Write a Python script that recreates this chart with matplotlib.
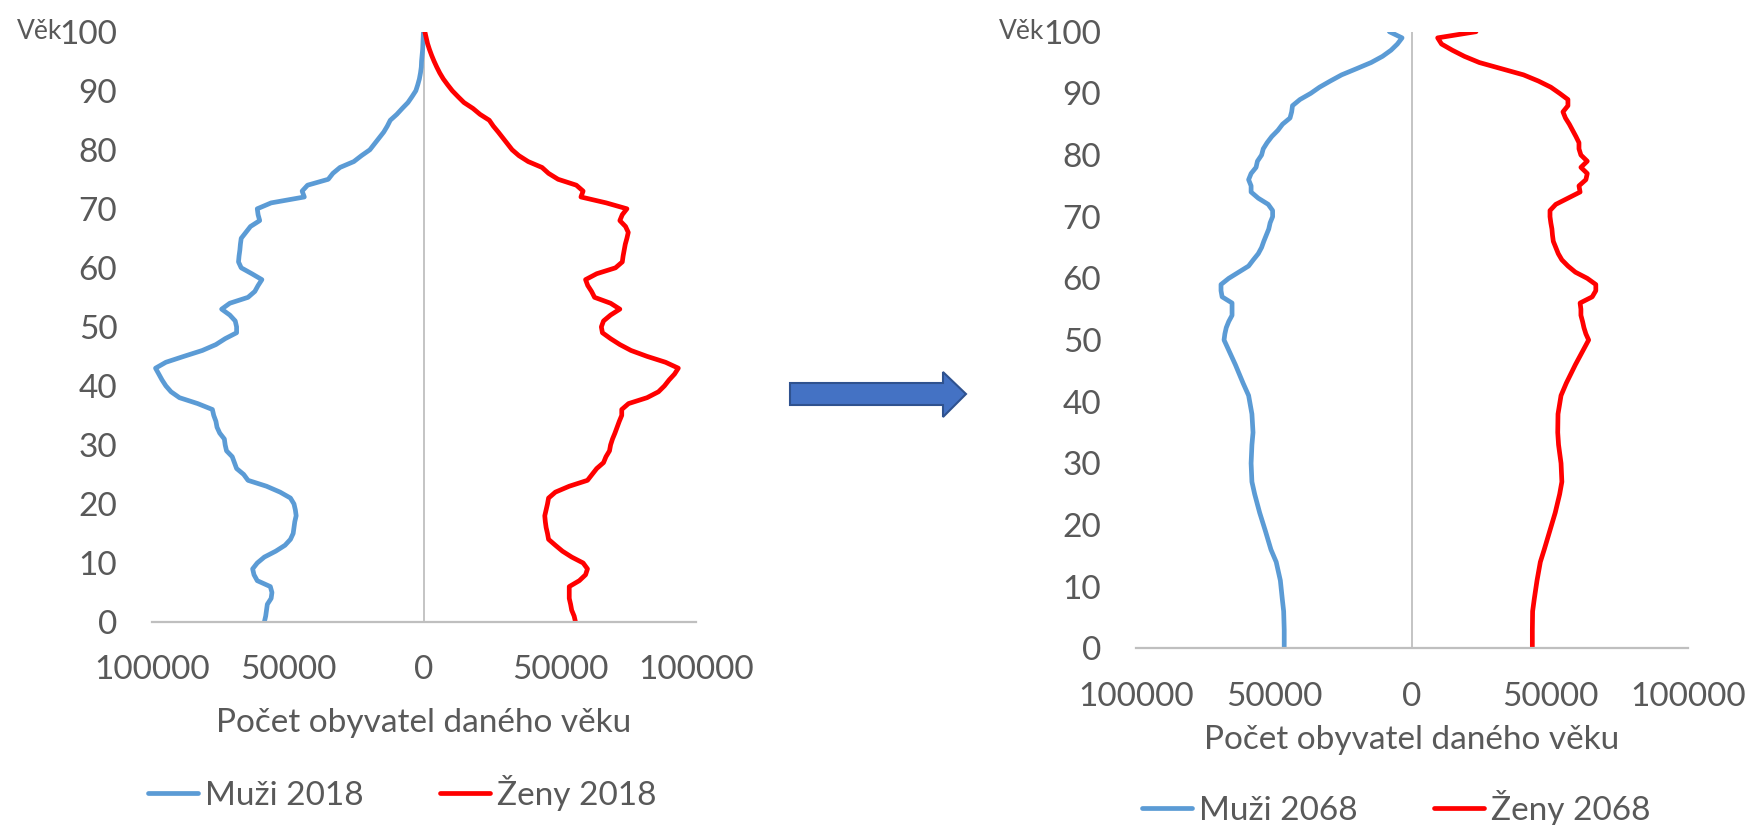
"""Věková pyramida ČR 2018 a projekce 2068."""

import matplotlib

matplotlib.use("Agg")
import matplotlib.pyplot as plt
from matplotlib.patches import Polygon
import numpy as np

plt.rcParams["font.family"] = ["Lato", "DejaVu Sans"]

# --- data: počet obyvatel podle věku ---------------------------------------
ages_2018 = list(range(0, 101))
muzi_2018 = [
    58700, 58200, 57900, 57600, 56200, 55900, 56500, 61300, 62500, 63000,
    61300, 58700, 54500, 51100, 49100, 48100, 47800, 47500, 47000, 47300,
    47800, 49100, 52900, 57900, 64700, 66300, 68900, 69700, 70500, 72600,
    73100, 73400, 75100, 76100, 76500, 77300, 77800, 83200, 89900, 93000,
    94900, 96300, 97500, 98700, 94900, 88300, 81500, 76500, 73100, 68900,
    68900, 69400, 71400, 74400, 71400, 64700, 62200, 61000, 59600, 63300,
    67200, 68200, 68000, 67700, 67500, 67200, 65500, 63800, 60400, 61000,
    61300, 56200, 44000, 44800, 42800, 35200, 33500, 30900, 25800, 23000,
    19900, 18200, 16500, 14800, 13500, 12400, 10000, 8000, 5900, 4400,
    3000, 2300, 1700, 1300, 1000, 900, 700, 500, 400, 300, 200,
]
zeny_2018 = [
    55700, 55200, 54300, 53900, 53400, 53400, 53400, 57100, 59400, 60100,
    58500, 54300, 50900, 48300, 45800, 45400, 44900, 44600, 44400, 44900,
    45400, 45800, 48300, 53400, 60100, 61800, 63500, 66000, 66900, 68200,
    68600, 69300, 70200, 71000, 71800, 72700, 72700, 75200, 82000, 86200,
    88400, 90100, 92100, 93500, 88800, 82000, 76100, 72000, 68600, 65600,
    65200, 66000, 68600, 72000, 68600, 62700, 61600, 60200, 59400, 63500,
    70400, 72900, 73200, 73600, 74000, 74600, 75100, 74100, 72000, 72900,
    74600, 67000, 57700, 58500, 56000, 49300, 45800, 43400, 38300, 34900,
    32400, 30700, 29000, 27300, 25500, 24000, 20600, 18000, 14700, 12500,
    10400, 8700, 7100, 5800, 4700, 3700, 2800, 2000, 1300, 800, 300,
]

ages_2068 = [0, 3, 6, 8, 11, 14, 16, 19, 22, 25, 27, 30, 33, 35, 38, 41, 43, 46] + list(range(50, 101))
muzi_2068 = [
    46300, 46300, 46500, 47000, 47700, 49200, 51100, 53100, 55200, 57000,
    58000, 58300, 58000, 57600, 58000, 59200, 61200, 64000,
    68100, 67800, 67300, 66400, 65200, 65200, 65200, 68800, 69200, 69200,
    66400, 62800, 59200, 57500, 55700, 54500, 53700, 52800, 51900, 51400,
    50500, 50500, 52100, 55700, 58300, 58300, 59200, 58300, 56500, 56000,
    54500, 53900, 52500, 50800, 48600, 46900, 44200, 43600, 43300, 40600,
    36700, 33500, 29600, 25500, 20100, 14800, 10700, 7600, 5300, 3600, 8200,
]
zeny_2068 = [
    43600, 43600, 43700, 44300, 45300, 46500, 47900, 49900, 51900, 53500,
    54300, 54000, 53100, 52800, 52900, 54000, 55900, 59200,
    64000, 63000, 62300, 61800, 61200, 61200, 60900, 65300, 66600, 66600,
    63500, 59200, 56500, 54300, 53000, 52100, 51200, 50900, 50700, 50300,
    50000, 50000, 52100, 56500, 60900, 60500, 63000, 63500, 61200, 63500,
    61200, 60500, 60500, 59400, 58200, 57000, 55600, 54700, 56500, 56500,
    53500, 50300, 45800, 40400, 32400, 24400, 19000, 14600, 10700, 9300, 23200,
]

xticks = [-100000, -50000, 0, 50000, 100000]
xtick_labels = ["100000", "50000", "0", "50000", "100000"]
yticks = list(range(0, 101, 10))

BLUE = "#5B9BD5"
RED = "#FF0000"
GRAY = "#BFBFBF"
TEXT = "#595959"
FS = 24
W, H = 1751, 825


def px_box(x0, x1, y_top, y_bot):
    return [x0 / W, 1 - y_bot / H, (x1 - x0) / W, (y_bot - y_top) / H]


def pyramid(fig, box, ages_m, men, ages_f, women, year, label_y, vek_x, legend_xy):
    ax = fig.add_axes(box)
    ax.plot(-np.asarray(men), ages_m, color=BLUE, lw=3.4, label=f"Muži {year}",
            solid_joinstyle="round", solid_capstyle="round")
    ax.plot(np.asarray(women), ages_f, color=RED, lw=3.4, label=f"Ženy {year}",
            solid_joinstyle="round", solid_capstyle="round")
    ax.axvline(0, color=GRAY, lw=1.3, zorder=0)
    ax.set_xlim(-100000, 100000)
    ax.set_ylim(0, 100)
    ax.set_xticks(xticks, xtick_labels)
    ax.set_yticks(yticks)
    ax.tick_params(axis="both", length=0, labelsize=FS, labelcolor=TEXT)
    ax.tick_params(axis="x", pad=24)
    ax.tick_params(axis="y", pad=25)
    for side in ("top", "right", "left"):
        ax.spines[side].set_visible(False)
    ax.spines["bottom"].set_color(GRAY)
    ax.spines["bottom"].set_linewidth(1.6)
    ax.set_xlabel("Počet obyvatel daného věku", fontsize=FS, color=TEXT, va="center")
    ax.xaxis.set_label_coords(0.5, label_y)
    ax.text(vek_x, 1.0, "Věk", transform=ax.transAxes, ha="right", va="center",
            fontsize=19, color=TEXT)
    ax.legend(loc="center", bbox_to_anchor=legend_xy, bbox_transform=fig.transFigure,
              ncol=2, frameon=False, fontsize=FS, labelcolor=TEXT,
              handlelength=1.5, handletextpad=0.2, columnspacing=2.3)
    return ax


fig = plt.figure(figsize=(W / 100, H / 100), dpi=100)

pyramid(fig, px_box(152, 696, 31.7, 622), ages_2018, muzi_2018, ages_2018, zeny_2018,
        2018, -0.171, -0.165, (402 / W, 1 - 793 / H))
pyramid(fig, px_box(1136, 1688, 31.7, 648.3), ages_2068, muzi_2068, ages_2068, zeny_2068,
        2068, -0.149, -0.167, (1396 / W, 1 - 808 / H))

# šipka mezi grafy
arrow_px = [(790, 383), (943, 383), (943, 372), (966, 394), (943, 417), (943, 405), (790, 405)]
arrow = Polygon([(x / W, 1 - y / H) for x, y in arrow_px], closed=True,
                transform=fig.transFigure, facecolor="#4472C4", edgecolor="#2F528F", lw=1.5)
fig.add_artist(arrow)

fig.savefig("out.png", dpi=100, facecolor="white")
